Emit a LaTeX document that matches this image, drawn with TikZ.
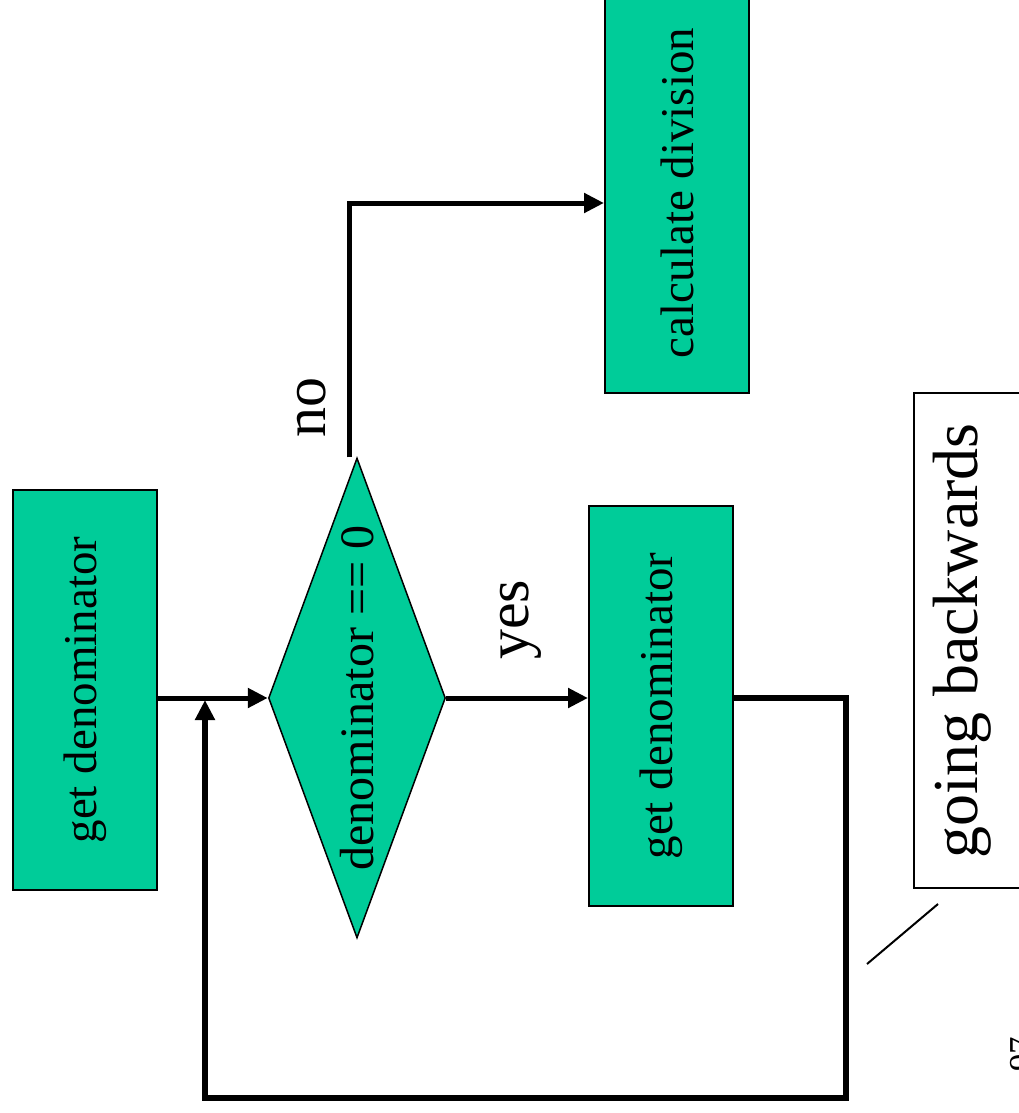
\documentclass[tikz,border=0pt]{standalone}
\usepackage{fontspec}
\setmainfont{Liberation Serif}
\usetikzlibrary{shapes.geometric,arrows.meta}
\definecolor{boxgreen}{HTML}{00CC99}
\tikzset{
  box/.style={draw=black,line width=2pt,fill=boxgreen,minimum width=144pt,minimum height=400pt,inner sep=0pt,font=\fontsize{47}{50}\selectfont},
  decision/.style={diamond,draw=black,line width=1.5pt,fill=boxgreen,minimum width=177pt,minimum height=480pt,inner sep=0pt,aspect=0.369,font=\fontsize{48}{50}\selectfont},
  note/.style={draw=black,line width=2pt,fill=white,inner sep=0pt},
  bigtext/.style={inner sep=0pt,font=\fontsize{64}{66}\selectfont},
  lbl/.style={inner sep=0pt,font=\fontsize{60}{62}\selectfont},
  flow/.style={line width=5pt,-{Triangle[length=20pt,width=19pt]}},
  loop/.style={line width=6pt,-{Triangle[length=20pt,width=19pt]}},
  thin/.style={line width=2pt}
}
\begin{document}
\begin{tikzpicture}[x=1pt,y=-1pt]
\useasboundingbox (0,0) rectangle (1018,1113);
% boxes
\node[box] (gd1) at (85,690) {\rotatebox{90}{get denominator}};
\node[decision] (dec) at (357,698) {\rotatebox{90}{denominator == 0}};
\node[box] (gd2) at (661,706) {\rotatebox{90}{get denominator}};
\node[box] (calc) at (677,193) {\rotatebox{90}{calculate division}};
\node[note,minimum width=130pt,minimum height=495pt] (gb) at (979,640.5) {};
\node[bigtext] (gbt) at (962,641) {\rotatebox{90}{going backwards}};
% labels
\node[lbl] (yes) at (521,620) {\rotatebox{90}{yes}};
\node[lbl] (no) at (312,407) {\rotatebox{90}{no}};
% coordinates
\coordinate (j) at (205,700);
\coordinate (lr) at (846,1098);
\coordinate (c1) at (867,964);
\coordinate (c2) at (938,904);
% connectors
\draw[flow] (gd1.east |- dec.west) -- (dec.west);
\draw[flow] (dec.east) -- (gd2.west |- dec.east);
\draw[flow] ([xshift=-8pt]dec.north) |- ([yshift=-10pt]calc.west);
\draw[loop] (gd2.east |- dec.east) -| (lr) -| (j);
\draw[thin] (c1) -- (c2);
% partial page number
\node[inner sep=0pt,anchor=west,font=\fontsize{35}{36}\selectfont] (pg) at (1010,1054) {\rotatebox{90}{97}};
\end{tikzpicture}
\end{document}
